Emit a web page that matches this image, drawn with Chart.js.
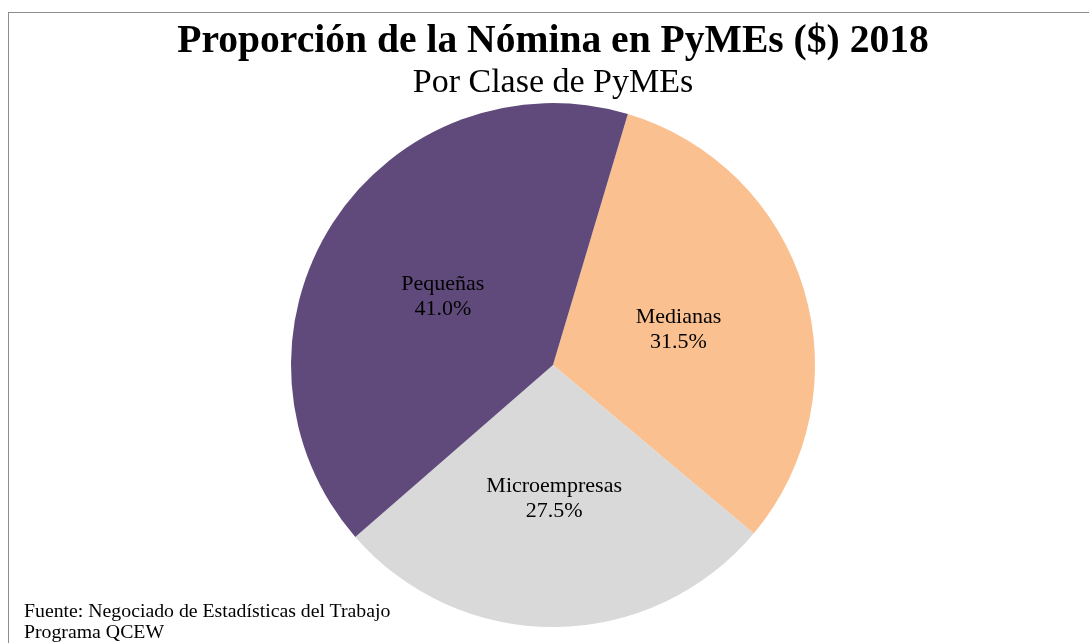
<!DOCTYPE html>
<html>
<head>
<meta charset="utf-8">
<script src="https://cdn.jsdelivr.net/npm/chart.js@4"></script>
<style>
  html, body { margin: 0; padding: 0; background: #fff; }
  #wrap { position: relative; width: 1089px; height: 643px; overflow: hidden; }
  #frame { position: absolute; left: 8px; top: 12px; width: 1100px; height: 700px; border: 1px solid #8c8c8c; box-sizing: border-box; }
  canvas { position: absolute; left: 0; top: 0; }
  #foot { position: absolute; left: 24px; top: 600px; font-family: "Liberation Serif", "Times New Roman", serif; font-size: 19.8px; line-height: 21px; color: #000; white-space: nowrap; }
</style>
</head>
<body>
<div id="wrap">
  <div id="frame"></div>
  <canvas id="c" width="1089" height="643"></canvas>
  <div id="foot">Fuente: Negociado de Estadísticas del Trabajo<br>Programa QCEW</div>
</div>
<script>
const categories = ["Medianas", "Microempresas", "Pequeñas"];
const values = [31.5, 27.5, 41.0];
const colors = ["#FAC090", "#D9D9D9", "#604A7B"];

const sliceLabels = {
  id: 'sliceLabels',
  afterDatasetsDraw(chart) {
    const ctx = chart.ctx;
    const meta = chart.getDatasetMeta(0);
    ctx.save();
    ctx.font = '22px "Liberation Serif", "Times New Roman", serif';
    ctx.fillStyle = '#000';
    ctx.textAlign = 'center';
    ctx.textBaseline = 'middle';
    meta.data.forEach((arc, i) => {
      const p = arc.tooltipPosition();
      ctx.fillText(chart.data.labels[i], p.x, p.y - 10);
      ctx.fillText(chart.data.datasets[0].data[i].toFixed(1) + '%', p.x, p.y + 15);
    });
    ctx.restore();
  }
};

new Chart(document.getElementById('c'), {
  type: 'pie',
  data: {
    labels: categories,
    datasets: [{ data: values, backgroundColor: colors, borderWidth: 0 }]
  },
  options: {
    responsive: false,
    animation: false,
    rotation: 16.6,
    layout: { padding: { top: 0, left: 17, right: 0, bottom: 16 } },
    plugins: {
      legend: { display: false },
      tooltip: { enabled: false },
      title: {
        display: true,
        text: 'Proporción de la Nómina en PyMEs ($) 2018',
        color: '#000',
        font: { family: '"Liberation Serif", "Times New Roman", serif', size: 39.6, weight: 'bold', lineHeight: 1.0 },
        padding: { top: 22, bottom: 4.4 }
      },
      subtitle: {
        display: true,
        text: 'Por Clase de PyMEs',
        color: '#000',
        font: { family: '"Liberation Serif", "Times New Roman", serif', size: 34, weight: 'normal', lineHeight: 1.0 },
        padding: { top: 0, bottom: 3 }
      }
    }
  },
  plugins: [sliceLabels]
});
</script>
</body>
</html>
